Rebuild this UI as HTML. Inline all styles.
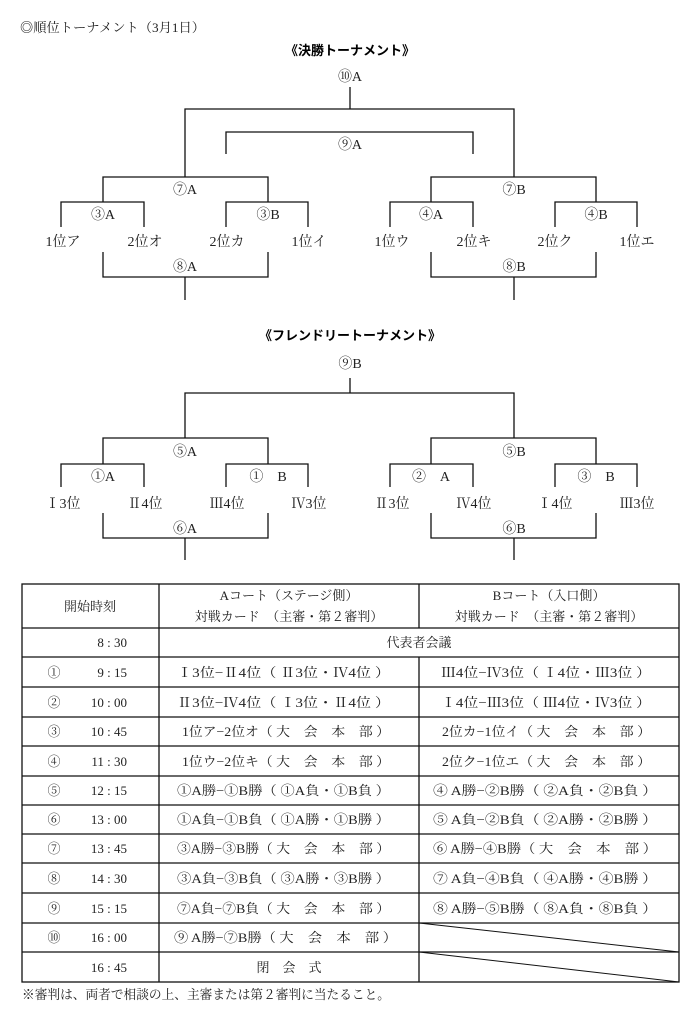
<!DOCTYPE html>
<html><head><meta charset="utf-8"><style>
html,body{margin:0;padding:0;background:#fff;}
svg{display:block;}
text{font-family:"Liberation Serif","Noto Serif CJK JP","Noto Serif CJK SC",serif;font-size:13px;fill:#222;}
.b{font-family:"Liberation Sans","Noto Sans CJK JP",sans-serif;font-weight:bold;font-size:13px;fill:#000;}
.k text{font-size:14px;}
</style></head><body>
<svg width="700" height="1019" viewBox="0 0 700 1019" xmlns="http://www.w3.org/2000/svg">
<g stroke="#111" stroke-width="1.3" fill="none">
<path d="M350 87V109M185 177V109H514V177"/>
<path d="M226 154V132H473V154"/>
<path d="M103 202V177H268V202M431 202V177H596V202"/>
<path d="M61 227V202H144V227M226 227V202H308V227M390 227V202H473V227M555 227V202H637V227"/>
<path d="M103 252V277H268V252M185 277V300M431 252V277H596V252M514 277V300"/>
<path d="M350 378V393M185 438V393H514V438"/>
<path d="M103 464V438H268V464M431 464V438H596V464"/>
<path d="M61 487V464H144V487M226 487V464H308V487M390 487V464H473V487M555 487V464H637V487"/>
<path d="M103 513V538H268V513M185 538V560M431 513V538H596V513M514 538V560"/>
<rect x="22" y="584" width="657" height="398"/>
<path d="M22 628H679M22 657H679M22 687H679M22 717H679M22 746H679M22 776H679M22 805H679M22 834H679M22 863H679M22 893H679M22 923H679M22 952H679"/>
<path d="M159 584V982M419 584V628M419 657V982"/>
<path d="M419 923L679 952M419 952L679 982" stroke-width="1"/>
</g>
<text x="20" y="32" textLength="185" lengthAdjust="spacingAndGlyphs">◎順位トーナメント（3月1日）</text>
<text class="b" x="350" y="55" text-anchor="middle">《決勝トーナメント》</text>
<g text-anchor="middle" class="k">
<text x="350" y="81">⑩A</text>
<text x="350" y="149">⑨A</text>
<text x="185" y="194">⑦A</text><text x="514" y="194">⑦B</text>
<text x="103" y="219">③A</text><text x="268" y="219">③B</text><text x="431" y="219">④A</text><text x="596" y="219">④B</text>
<text x="63" y="246">1位ア</text><text x="145" y="246">2位オ</text><text x="227" y="246">2位カ</text><text x="309" y="246">1位イ</text>
<text x="392" y="246">1位ウ</text><text x="474" y="246">2位キ</text><text x="555" y="246">2位ク</text><text x="637" y="246">1位エ</text>
<text x="185" y="271">⑧A</text><text x="514" y="271">⑧B</text>
<text x="350" y="368">⑨B</text>
<text x="185" y="456">⑤A</text><text x="514" y="456">⑤B</text>
<text x="103" y="481">①A</text><text x="268" y="481">①　B</text><text x="431" y="481">②　A</text><text x="596" y="481">③　B</text>
<text x="63" y="508">Ⅰ3位</text><text x="145" y="508">Ⅱ4位</text><text x="227" y="508">Ⅲ4位</text><text x="309" y="508">Ⅳ3位</text>
<text x="392" y="508">Ⅱ3位</text><text x="474" y="508">Ⅳ4位</text><text x="555" y="508">Ⅰ4位</text><text x="637" y="508">Ⅲ3位</text>
<text x="185" y="533">⑥A</text><text x="514" y="533">⑥B</text>
</g>
<g text-anchor="middle">
<text class="b" x="350" y="340">《フレンドリートーナメント》</text>
<text x="90" y="611" font-size="12">開始時刻</text>
<text x="289" y="600" font-size="12">Aコート（ステージ側）</text>
<text x="289" y="621" font-size="12">対戦カード　（主審・第２審判）</text>
<text x="549" y="600" font-size="12">Bコート（入口側）</text>
<text x="549" y="621" font-size="12">対戦カード　（主審・第２審判）</text>
<text x="419" y="647" font-size="12">代表者会議</text>
<text x="289" y="972">閉　会　式</text>
</g>
<g text-anchor="end">
<text x="127" y="647">8 : 30</text>
<text x="127" y="677">9 : 15</text>
<text x="127" y="707">10 : 00</text>
<text x="127" y="736">10 : 45</text>
<text x="127" y="766">11 : 30</text>
<text x="127" y="795">12 : 15</text>
<text x="127" y="824">13 : 00</text>
<text x="127" y="853">13 : 45</text>
<text x="127" y="883">14 : 30</text>
<text x="127" y="913">15 : 15</text>
<text x="127" y="942">16 : 00</text>
<text x="127" y="972">16 : 45</text>
</g>
<g text-anchor="middle">
<text x="54" y="677">①</text><text x="54" y="707">②</text><text x="54" y="736">③</text><text x="54" y="766">④</text>
<text x="54" y="795">⑤</text><text x="54" y="824">⑥</text><text x="54" y="853">⑦</text><text x="54" y="883">⑧</text>
<text x="54" y="913">⑨</text><text x="54" y="942">⑩</text>
</g>
<g>
<text x="177" y="677" textLength="213" lengthAdjust="spacingAndGlyphs">Ⅰ3位−Ⅱ4位（ Ⅱ3位・Ⅳ4位 ）</text>
<text x="177" y="707" textLength="213" lengthAdjust="spacingAndGlyphs">Ⅱ3位−Ⅳ4位（ Ⅰ3位・Ⅱ4位 ）</text>
<text x="182" y="736" textLength="208" lengthAdjust="spacingAndGlyphs">1位ア−2位オ（ 大　会　本　部 ）</text>
<text x="182" y="766" textLength="208" lengthAdjust="spacingAndGlyphs">1位ウ−2位キ（ 大　会　本　部 ）</text>
<text x="177" y="795" textLength="213" lengthAdjust="spacingAndGlyphs">①A勝−①B勝（ ①A負・①B負 ）</text>
<text x="177" y="824" textLength="213" lengthAdjust="spacingAndGlyphs">①A負−①B負（ ①A勝・①B勝 ）</text>
<text x="177" y="853" textLength="213" lengthAdjust="spacingAndGlyphs">③A勝−③B勝（ 大　会　本　部 ）</text>
<text x="177" y="883" textLength="213" lengthAdjust="spacingAndGlyphs">③A負−③B負（ ③A勝・③B勝 ）</text>
<text x="177" y="913" textLength="213" lengthAdjust="spacingAndGlyphs">⑦A負−⑦B負（ 大　会　本　部 ）</text>
<text x="174" y="942" textLength="223" lengthAdjust="spacingAndGlyphs">⑨ A勝−⑦B勝（ 大　会　本　部 ）</text>
<text x="441" y="677" textLength="210" lengthAdjust="spacingAndGlyphs">Ⅲ4位−Ⅳ3位（ Ⅰ4位・Ⅲ3位 ）</text>
<text x="441" y="707" textLength="210" lengthAdjust="spacingAndGlyphs">Ⅰ4位−Ⅲ3位（ Ⅲ4位・Ⅳ3位 ）</text>
<text x="442" y="736" textLength="209" lengthAdjust="spacingAndGlyphs">2位カ−1位イ（ 大　会　本　部 ）</text>
<text x="442" y="766" textLength="209" lengthAdjust="spacingAndGlyphs">2位ク−1位エ（ 大　会　本　部 ）</text>
<text x="433" y="795" textLength="224" lengthAdjust="spacingAndGlyphs">④ A勝−②B勝（ ②A負・②B負 ）</text>
<text x="433" y="824" textLength="224" lengthAdjust="spacingAndGlyphs">⑤ A負−②B負（ ②A勝・②B勝 ）</text>
<text x="433" y="853" textLength="224" lengthAdjust="spacingAndGlyphs">⑥ A勝−④B勝（ 大　会　本　部 ）</text>
<text x="433" y="883" textLength="224" lengthAdjust="spacingAndGlyphs">⑦ A負−④B負（ ④A勝・④B勝 ）</text>
<text x="433" y="913" textLength="224" lengthAdjust="spacingAndGlyphs">⑧ A勝−⑤B勝（ ⑧A負・⑧B負 ）</text>
</g>
<text x="22" y="999" font-size="12" textLength="368" lengthAdjust="spacingAndGlyphs">※審判は、両者で相談の上、主審または第２審判に当たること。</text>
</svg>
</body></html>
